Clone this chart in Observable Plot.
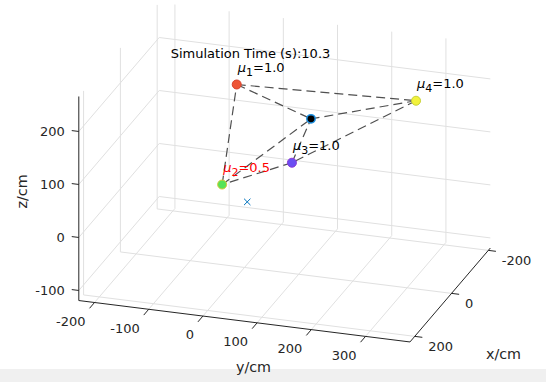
<!DOCTYPE html>
<html>
<head>
<meta charset="utf-8">
<script src="https://cdn.jsdelivr.net/npm/d3@7"></script>
<script src="https://cdn.jsdelivr.net/npm/@observablehq/plot@0.6"></script>
<style>
  html, body { margin: 0; padding: 0; }
  body { width: 546px; height: 382px; overflow: hidden;
         background: linear-gradient(#ffffff 369px, #f0f0f0 369px); }
  #chart svg { display: block; overflow: visible; }
</style>
</head>
<body>
<div id="chart"></div>
<script>
// ---- axis limits and ticks (cm) ----
const xLim = [-211, 226];
const yLim = [-229, 382];
const zLim = [-119, 266];
const xTicks = [-200, 0, 200];
const yTicks = [-200, -100, 0, 100, 200, 300];
const zTicks = [-100, 0, 100, 200];

// ---- anchors ----
const anchorIds = [1, 2, 3, 4];
const anchorMu = ["1.0", "0.5", "1.0", "1.0"];
const anchorX = [57, 151, 134, 31];
const anchorY = [5, 10, 133, 327];
const anchorZ = [250, 100, 150, 250];
const anchorFill = ["#ee5536", "#56e356", "#6a4ef2", "#f2f23c"];
const anchorStroke = ["#d8402a", "#d8c838", "#8a3ad8", "#c8d23a"];
const labelColor = ["#000000", "#ff0000", "#000000", "#000000"];

// ---- estimated tag position and marker ----
const tagPos = [51, 140, 200];
const crossPos = [-12, 1, 0];

// ---- connections (anchor index pairs); -1 = tag ----
const edges = [[0, 1], [1, 2], [2, 3], [3, 0], [-1, 0], [-1, 1], [-1, 2], [-1, 3]];

const titleText = "Simulation Time (s):10.3";

// ---- 3D view (orthographic projection vectors) ----
const viewX = [-0.184, 0.215];
const viewY = [0.542, 0.0678];
const viewZ = [0, -0.53];
function proj([x, y, z]) {
  return [viewX[0] * x + viewY[0] * y + viewZ[0] * z,
          viewX[1] * x + viewY[1] * y + viewZ[1] * z];
}
function seg(a, b, extra = {}) {
  const p = proj(a), q = proj(b);
  return {x1: p[0], y1: p[1], x2: q[0], y2: q[1], ...extra};
}

const [X0, X1] = xLim, [Y0, Y1] = yLim, [Z0, Z1] = zLim;

// grid lines on back planes
const grid = [];
for (const y of yTicks) {
  grid.push(seg([X0, y, Z0], [X1, y, Z0]));   // floor
  grid.push(seg([X0, y, Z0], [X0, y, Z1]));   // back wall x = X0
}
for (const x of xTicks) {
  grid.push(seg([x, Y0, Z0], [x, Y1, Z0]));   // floor
  grid.push(seg([x, Y0, Z0], [x, Y0, Z1]));   // wall y = Y0
}
for (const z of zTicks) {
  grid.push(seg([X0, Y0, z], [X1, Y0, z]));   // wall y = Y0
  grid.push(seg([X0, Y0, z], [X0, Y1, z]));   // wall x = X0
}

// axis lines
const axes = [
  seg([X1, Y0, Z0], [X1, Y1, Z0]),  // y axis
  seg([X1, Y1, Z0], [X0, Y1, Z0]),  // x axis
  seg([X1, Y0, Z0], [X1, Y0, Z1])   // z axis
];
// ticks (outward)
const ticks = [
  ...yTicks.map(y => seg([X1, y, Z0], [X1 + 27, y, Z0])),
  ...xTicks.map(x => seg([x, Y1, Z0], [x, Y1 + 14, Z0])),
  ...zTicks.map(z => seg([X1, Y0, z], [X1, Y0 - 13, z]))
];
const yLabels = yTicks.map(y => { const p = proj([X1, y, Z0]); return {x: p[0], y: p[1], t: String(y)}; });
const xLabels = xTicks.map(x => { const p = proj([x, Y1, Z0]); return {x: p[0], y: p[1], t: String(x)}; });
const zLabels = zTicks.map(z => { const p = proj([X1, Y0, z]); return {x: p[0], y: p[1], t: String(z)}; });

// anchors
const anchors = anchorIds.map((id, i) => {
  const p = proj([anchorX[i], anchorY[i], anchorZ[i]]);
  return {x: p[0], y: p[1], fill: anchorFill[i], stroke: anchorStroke[i],
          label: `μ${id}=${anchorMu[i]}`, color: labelColor[i]};
});
const pt = i => i < 0 ? tagPos : [anchorX[i], anchorY[i], anchorZ[i]];
const dashes = edges.map(([a, b]) => seg(pt(b), pt(a)));
const tag = (() => { const p = proj(tagPos); return [{x: p[0], y: p[1]}]; })();
const cross = (() => { const p = proj(crossPos); return [{x: p[0], y: p[1]}]; })();

const axisColor = "#262626";
const chart = Plot.plot({
  width: 546, height: 382,
  margin: 0,
  x: {domain: [-244, 302], range: [0, 546], axis: null},
  y: {domain: [-203.9, 178.1], range: [0, 382], axis: null},
  style: {fontFamily: "DejaVu Sans", fontSize: "13px", background: "transparent", color: axisColor},
  marks: [
    Plot.link(grid, {x1: "x1", y1: "y1", x2: "x2", y2: "y2", stroke: "#e0e0e0", strokeWidth: 1}),
    Plot.link(axes, {x1: "x1", y1: "y1", x2: "x2", y2: "y2", stroke: axisColor, strokeWidth: 1}),
    Plot.link(ticks, {x1: "x1", y1: "y1", x2: "x2", y2: "y2", stroke: axisColor, strokeWidth: 1}),
    Plot.text(yLabels, {x: "x", y: "y", text: "t", textAnchor: "end", lineAnchor: "top", dx: -9, dy: 14, fill: axisColor, fontSize: 13}),
    Plot.text(xLabels, {x: "x", y: "y", text: "t", textAnchor: "start", lineAnchor: "middle", dx: 13.5, dy: 10.5, fill: axisColor, fontSize: 13}),
    Plot.text(zLabels, {x: "x", y: "y", text: "t", textAnchor: "end", lineAnchor: "middle", dx: -14, fill: axisColor, fontSize: 13}),
    Plot.link(dashes, {x1: "x1", y1: "y1", x2: "x2", y2: "y2", stroke: "#505050", strokeWidth: 1.2, strokeDasharray: "9,5"}),
    Plot.dot(anchors, {x: "x", y: "y", r: 4.5, fill: "fill", stroke: "stroke", strokeWidth: 1}),
    Plot.dot(tag, {x: "x", y: "y", r: 4.2, fill: "#000000", stroke: "#1b8fe0", strokeWidth: 1.5}),
    Plot.dot(cross, {x: "x", y: "y", r: 3, symbol: "times", stroke: "#0072BD", strokeWidth: 1}),
    Plot.text(anchors, {x: "x", y: "y", text: "label", fill: "color", textAnchor: "start", lineAnchor: "middle", dx: 1, dy: -17, fontSize: 13, className: "mulabel"}),
    Plot.text([titleText], {frameAnchor: "top", text: d => d, textAnchor: "middle", lineAnchor: "middle", dx: -23, dy: 53.5, fill: "#000000", fontSize: 13}),
    Plot.text(["z/cm"], {frameAnchor: "left", text: d => d, rotate: -90, textAnchor: "middle", lineAnchor: "middle", dx: 22, dy: 0, fill: axisColor, fontSize: 14.3}),
    Plot.text(["y/cm"], {frameAnchor: "bottom", text: d => d, textAnchor: "middle", lineAnchor: "middle", dx: -20, dy: -15, fill: axisColor, fontSize: 14.3}),
    Plot.text(["x/cm"], {frameAnchor: "bottom-right", text: d => d, textAnchor: "middle", lineAnchor: "middle", dx: -43, dy: -28.5, fill: axisColor, fontSize: 14.3})
  ]
});
document.getElementById("chart").append(chart);

// TeX-like subscripts for the μ labels
d3.select(chart).selectAll(".mulabel text").each(function () {
  const s = this.textContent;
  const m = s.match(/^μ(\d+)(=.*)$/);
  if (!m) return;
  const t = d3.select(this);
  t.text(null);
  t.append("tspan").attr("font-style", "italic").text("μ");
  t.append("tspan").attr("font-size", "11px").attr("dy", 4.5).text(m[1]);
  t.append("tspan").attr("dy", -4.5).text(m[2]);
});
</script>
</body>
</html>
